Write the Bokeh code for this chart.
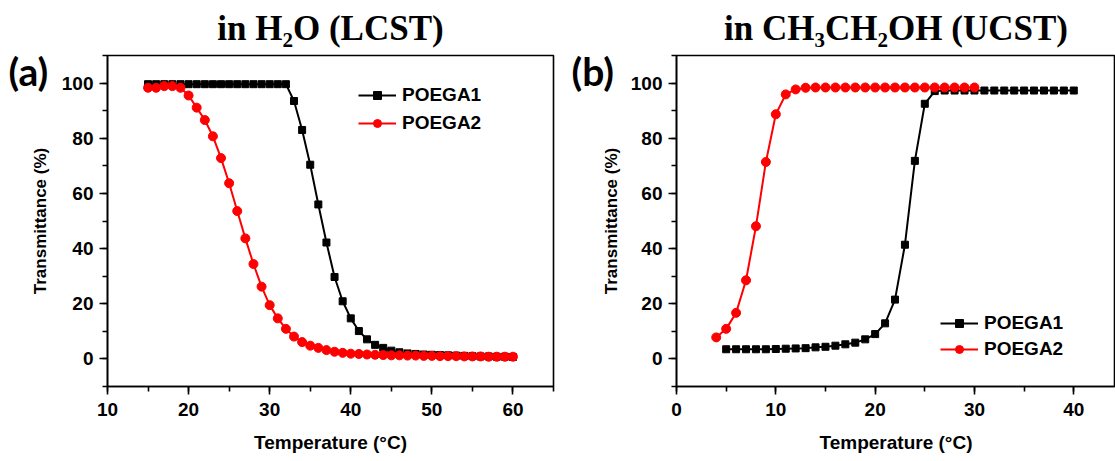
from bokeh.plotting import figure
from bokeh.models import Range1d, SingleIntervalTicker, Title
from bokeh.layouts import row
from bokeh.embed import file_html
from bokeh.resources import INLINE

# ---------------- data ----------------
# panel (a): in water (LCST)
a_temp = [15, 16, 17, 18, 19, 20, 21, 22, 23, 24, 25, 26, 27, 28, 29, 30,
          31, 32, 33, 34, 35, 36, 37, 38, 39, 40, 41, 42, 43, 44, 45, 46,
          47, 48, 49, 50, 51, 52, 53, 54, 55, 56, 57, 58, 59, 60]
a_poega1 = [99.6, 99.6, 99.6, 99.6, 99.6, 99.6, 99.6, 99.6, 99.6, 99.6,
            99.6, 99.6, 99.6, 99.6, 99.6, 99.6, 99.6, 99.6,
            93.5, 83.0, 70.4, 56.0, 42.2, 29.7, 20.9, 14.7, 10.1, 7.1,
            5.1, 4.0, 3.0, 2.4, 2.0, 1.8, 1.6, 1.5, 1.4, 1.3,
            1.2, 1.1, 1.0, 0.9, 0.9, 0.8, 0.8, 0.7]
a_poega2 = [98.3, 98.3, 98.9, 98.9, 98.3, 95.5, 91.1, 86.6, 80.7, 72.8,
            63.7, 53.6, 43.7, 34.4, 26.2, 19.5, 14.7, 10.9, 8.1, 6.1,
            4.8, 4.0, 3.2, 2.6, 2.2, 1.9, 1.8, 1.6, 1.5, 1.4,
            1.3, 1.3, 1.2, 1.2, 1.1, 1.1, 1.0, 1.0, 1.0, 0.9,
            0.9, 0.9, 0.8, 0.8, 0.8, 0.8]

# panel (b): in ethanol (UCST)
b_temp1 = [5, 6, 7, 8, 9, 10, 11, 12, 13, 14, 15, 16, 17, 18, 19, 20, 21, 22,
           23, 24, 25, 26, 27, 28, 29, 30, 31, 32, 33, 34, 35, 36, 37, 38, 39, 40]
b_poega1 = [3.5, 3.5, 3.5, 3.5, 3.5, 3.6, 3.7, 3.8, 3.9, 4.2,
            4.4, 4.8, 5.3, 5.9, 7.1, 9.0, 12.9, 21.5, 41.4, 71.8,
            92.5, 97.1, 97.3, 97.3, 97.3, 97.3, 97.3, 97.3, 97.3, 97.3,
            97.3, 97.3, 97.3, 97.3, 97.3, 97.3]
b_temp2 = [4, 5, 6, 7, 8, 9, 10, 11, 12, 13, 14, 15, 16, 17, 18, 19, 20, 21,
           22, 23, 24, 25, 26, 27, 28, 29, 30]
b_poega2 = [7.8, 10.9, 16.7, 28.5, 48.1, 71.4, 88.7, 95.9, 97.7,
            98.3, 98.4, 98.4, 98.4, 98.4, 98.4, 98.4, 98.4, 98.4,
            98.4, 98.4, 98.4, 98.4, 98.4, 98.4, 98.4, 98.4, 98.4]

series_names = ["POEGA1", "POEGA2"]
titles = ["in H\u2082O (LCST)", "in CH\u2083CH\u2082OH (UCST)"]
panel_tags = ["(a)", "(b)"]
x_label = "Temperature (\u00b0C)"
y_label = "Transmittance (%)"

SANS = "Liberation Sans"
TOP, BOTTOM, HEIGHT = 55, 74, 460


def style(p, title, y_std):
    p.title.text = title
    p.title.align = "center"
    p.title.text_font = "Liberation Serif"
    p.title.text_font_size = "35px"
    p.title.text_font_style = "bold"
    p.title.text_color = "black"
    p.title.standoff = 12
    p.grid.visible = False
    p.outline_line_color = "black"
    p.outline_line_width = 1.6
    p.outline_line_alpha = 1
    for ax in (p.xaxis[0], p.yaxis[0]):
        ax.axis_line_width = 1.6
        ax.major_tick_line_width = 1.6
        ax.minor_tick_line_width = 1.6
        ax.major_tick_in = 0
        ax.major_tick_out = 8
        ax.minor_tick_in = 0
        ax.minor_tick_out = 5
        ax.major_label_text_font = SANS
        ax.major_label_text_font_style = "bold"
        ax.major_label_text_font_size = "19px"
        ax.major_label_text_color = "black"
        ax.axis_label_text_font = SANS
        ax.axis_label_text_font_style = "bold"
        ax.axis_label_text_color = "black"
    p.xaxis.axis_label = x_label
    p.xaxis.axis_label_text_font_size = "19px"
    p.xaxis.major_label_standoff = 8
    p.xaxis.axis_label_standoff = 13
    p.yaxis.axis_label = y_label
    p.yaxis.axis_label_text_font_size = "17px"
    p.yaxis.major_label_standoff = 6
    p.yaxis.axis_label_standoff = y_std
    p.xaxis.ticker = SingleIntervalTicker(interval=10, num_minor_ticks=2)
    p.yaxis.ticker = SingleIntervalTicker(interval=20, num_minor_ticks=2)


def style_legend(p, loc, spacing):
    lg = p.legend[0]
    lg.location = loc
    lg.glyph_width = 38
    lg.glyph_height = 20
    lg.label_height = 20
    lg.spacing = spacing
    lg.padding = 0
    lg.margin = 0
    lg.label_standoff = 6
    lg.border_line_alpha = 0
    lg.background_fill_alpha = 0
    lg.label_text_font = SANS
    lg.label_text_font_style = "bold"
    lg.label_text_font_size = "19px"
    lg.label_text_color = "black"


def add_tag(p, tag, offset):
    # panel tag drawn in the (zero-height) title band, hanging down beside the y axis
    p.add_layout(Title(text="\n" + tag, align="left", offset=offset, vertical_align="bottom",
                       standoff=-78, text_line_height=0.7, text_font="Lato",
                       text_font_size="39px", text_font_style="bold", text_color="black"),
                 "above")


# ---------------- panel (a) ----------------
pa = figure(width=565, height=HEIGHT, x_range=Range1d(10, 65), y_range=Range1d(-10, 110),
            output_backend="svg", toolbar_location=None,
            min_border_left=107, min_border_right=12, min_border_top=TOP, min_border_bottom=BOTTOM)
style(pa, titles[0], 9)
pa.line(a_temp, a_poega1, line_color="black", line_width=2, legend_label=series_names[0])
pa.scatter(a_temp, a_poega1, marker="square", size=7, color="black", legend_label=series_names[0])
pa.line(a_temp, a_poega2, line_color="#ff0000", line_width=2, legend_label=series_names[1])
pa.scatter(a_temp, a_poega2, marker="circle", size=9, color="#ff0000", legend_label=series_names[1])
style_legend(pa, (251, 252), 6)
add_tag(pa, panel_tags[0], -99)

# ---------------- panel (b) ----------------
pb = figure(width=550, height=HEIGHT, x_range=Range1d(0, 44.2), y_range=Range1d(-10, 110),
            output_backend="svg", toolbar_location=None,
            min_border_left=111, min_border_right=0, min_border_top=TOP, min_border_bottom=BOTTOM)
style(pb, titles[1], 7)
pb.line(b_temp1, b_poega1, line_color="black", line_width=2, legend_label=series_names[0])
pb.scatter(b_temp1, b_poega1, marker="square", size=7, color="black", legend_label=series_names[0])
pb.line(b_temp2, b_poega2, line_color="#ff0000", line_width=2, legend_label=series_names[1])
pb.scatter(b_temp2, b_poega2, marker="circle", size=9, color="#ff0000", legend_label=series_names[1])
style_legend(pb, (264, 26), 4)
add_tag(pb, panel_tags[1], -105)

layout = row(pa, pb)
open("out.html", "w").write(file_html(layout, INLINE))
